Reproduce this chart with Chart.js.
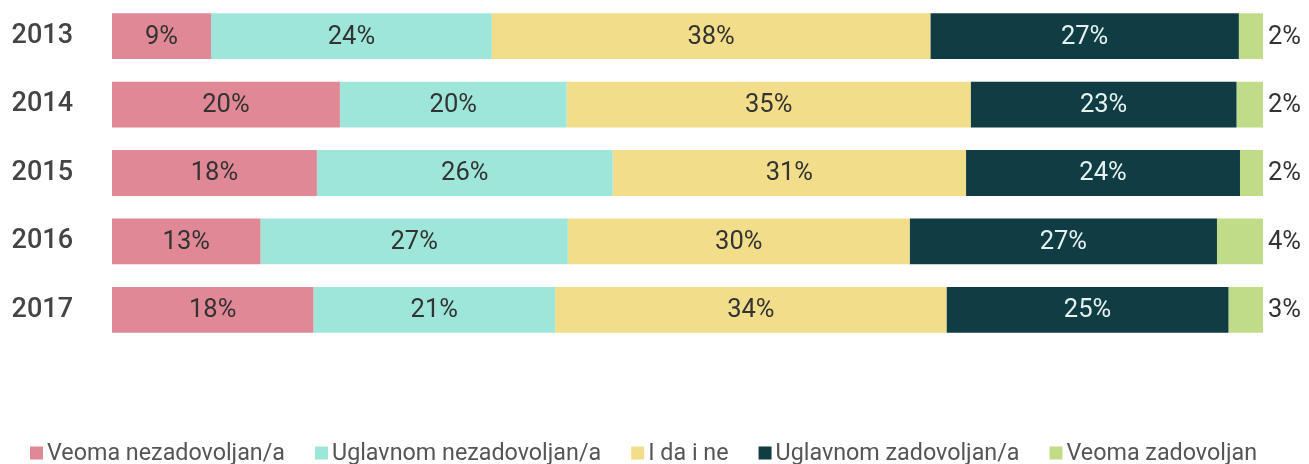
<!DOCTYPE html>
<html><head><meta charset="utf-8">
<script src="https://cdn.jsdelivr.net/npm/chart.js@4"></script>
<style>html,body{margin:0;padding:0;background:#fff}#wrap{width:1309px;height:464px;position:relative}</style>
</head><body><div id="wrap"><canvas id="c"></canvas></div>
<script>
const years = ['2013','2014','2015','2016','2017'];
const seriesNames = ['Veoma nezadovoljan/a','Uglavnom nezadovoljan/a','I da i ne','Uglavnom zadovoljan/a','Veoma zadovoljan'];
const veomaNezadovoljan = [8.6,19.8,17.8,12.9,17.5];
const uglavnomNezadovoljan = [24.4,19.7,25.7,26.7,21.0];
const iDaINe = [38.1,35.1,30.7,29.7,34.0];
const uglavnomZadovoljan = [26.8,23.1,23.8,26.7,24.5];
const veomaZadovoljan = [2.1,2.3,2.0,4.0,3.0];
const colors = ['#e08896','#9ee6da','#f2de8a','#0f3d43','#c0dc88'];
const labelColors = ['#333333','#333333','#333333','#e6f2f0','#333333'];

const seriesValues = [veomaNezadovoljan, uglavnomNezadovoljan, iDaINe, uglavnomZadovoljan, veomaZadovoljan];
const FONT = 'Roboto, "DejaVu Sans Condensed", sans-serif';

const labelPlugin = {
  id: 'barLabels',
  afterDatasetsDraw(chart) {
    const ctx = chart.ctx;
    ctx.save();
    ctx.font = '400 25.5px ' + FONT;
    ctx.textBaseline = 'middle';
    const n = chart.data.datasets.length;
    chart.data.datasets.forEach((ds, i) => {
      const meta = chart.getDatasetMeta(i);
      meta.data.forEach((bar, j) => {
        const txt = Math.round(ds.data[j]) + '%';
        if (i === n - 1) {
          ctx.fillStyle = '#333333';
          ctx.textAlign = 'left';
          ctx.fillText(txt, bar.x + 5, bar.y + 1);
        } else {
          ctx.fillStyle = labelColors[i];
          ctx.textAlign = 'center';
          ctx.fillText(txt, (bar.x + bar.base) / 2, bar.y + 1);
        }
      });
    });
    ctx.restore();
  }
};

const legendPlugin = {
  id: 'customLegend',
  afterDraw(chart) {
    const ctx = chart.ctx;
    ctx.save();
    ctx.font = '400 23.3px ' + FONT;
    ctx.textBaseline = 'middle';
    ctx.textAlign = 'left';
    const box = 13, gapText = 4, gapItem = 30, y = 453;
    let x = 30;
    seriesNames.forEach((name, i) => {
      ctx.fillStyle = colors[i];
      ctx.fillRect(x, y - box / 2, box, box);
      ctx.fillStyle = '#555555';
      ctx.fillText(name, x + box + gapText, y + 1);
      x += box + gapText + ctx.measureText(name).width + gapItem;
    });
    ctx.restore();
  }
};

new Chart(document.getElementById('c'), {
  type: 'bar',
  data: {
    labels: years,
    datasets: seriesNames.map((name, i) => ({
      label: name,
      data: seriesValues[i],
      backgroundColor: colors[i],
      borderWidth: 0,
      barPercentage: 0.67,
      categoryPercentage: 1
    }))
  },
  options: {
    indexAxis: 'y',
    responsive: true,
    maintainAspectRatio: false,
    animation: false,
    layout: { padding: { left: 0, right: 46, top: 2, bottom: 120 } },
    plugins: { legend: { display: false }, tooltip: { enabled: false } },
    scales: {
      x: { stacked: true, min: 0, max: 100, display: false },
      y: {
        stacked: true,
        grid: { display: false, drawTicks: false },
        border: { display: false },
        ticks: { padding: 39, color: '#444444', font: { family: FONT, size: 27, weight: '500' } },
        afterFit(scale) { scale.width = 112; scale.paddingTop = 0; scale.paddingBottom = 0; }
      }
    }
  },
  plugins: [labelPlugin, legendPlugin]
});
</script>
</body></html>
